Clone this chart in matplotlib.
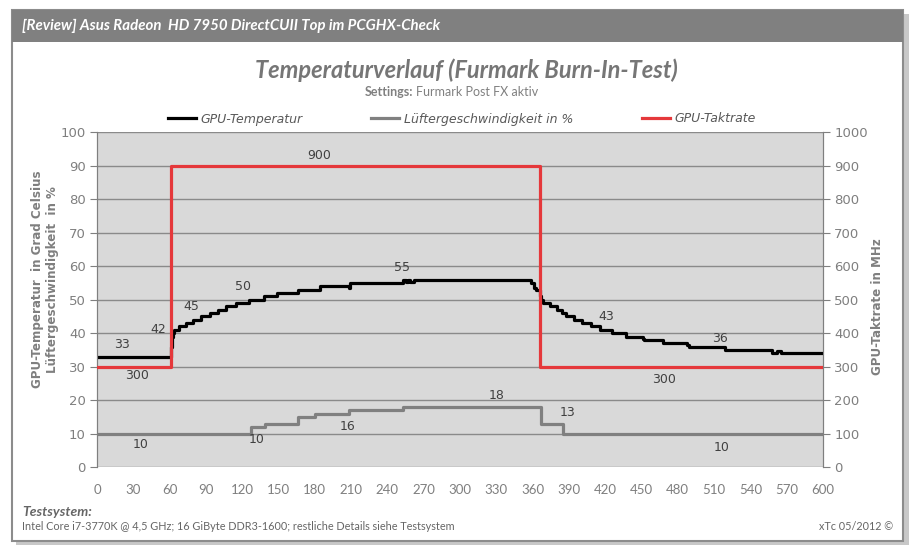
import matplotlib.pyplot as plt
from matplotlib.patches import Rectangle

# time axis in seconds, values as step levels (start time -> level)
temp_t = [0, 61, 62, 63, 64, 68, 73.5, 79, 86, 93, 100, 107, 115, 126, 138, 149, 166, 184,
          207, 208, 209, 253, 255, 257, 259, 262, 359, 361, 363, 366, 367, 369, 374, 380, 384,
          388, 394, 401, 408, 416, 426, 437, 451, 452, 468, 488, 489, 519, 558, 562, 565, 600]
temp_v = [33, 36, 39, 40, 41, 42, 43, 44, 45, 46, 47, 48, 49, 50, 51, 52, 53, 54,
          54, 53.6, 55, 55.8, 55.2, 55.8, 55.2, 56, 55, 53.5, 53, 51, 50, 49, 48, 47, 46,
          45, 44, 43, 42, 41, 40, 39, 38.4, 38, 37, 36.5, 36, 35, 34, 34.7, 34, 34]

fan_t = [0, 127, 138.5, 166.5, 180, 208, 252.5, 367, 385, 600]
fan_v = [10, 12, 13, 15, 16, 17, 18, 13, 10, 10]

clock_t = [0, 61, 366, 600]
clock_v = [300, 900, 300, 300]

x_ticks = list(range(0, 601, 30))

# data labels as shown in the chart (text, x, y)
temp_labels = [('33', 21, 36.7), ('42', 51, 41.2), ('45', 78, 48.0), ('50', 121, 53.9),
               ('55', 252, 59.5), ('43', 421, 44.9), ('36', 515, 38.5)]
fan_labels = [('10', 36, 6.7), ('10', 132, 8.4), ('16', 207, 12.2), ('18', 330, 21.5),
              ('13', 389, 16.2), ('10', 516, 5.9)]
clock_labels = [('300', 33, 275), ('900', 184, 931), ('300', 469, 262)]

GRAY = '#7f7f7f'
TXT = '#404040'

fig = plt.figure(figsize=(9.16, 5.51), dpi=100)
W, H = 916, 551

def fx(px):
    return px / W

def fy(py):
    return 1 - py / H

# frame with shadow and header bar
fig.patches.append(Rectangle((fx(16), fy(545)), fx(893), fy(14) - fy(545),
                             transform=fig.transFigure, facecolor='#c8c8c8', edgecolor='none', zorder=-3))
fig.patches.append(Rectangle((fx(12), fy(541)), fx(891), fy(10) - fy(541),
                             transform=fig.transFigure, facecolor='white', edgecolor='#8c8c8c', lw=1.5, zorder=-2))
fig.patches.append(Rectangle((fx(12), fy(42)), fx(891), fy(10) - fy(42),
                             transform=fig.transFigure, facecolor='#808080', edgecolor='none', zorder=-1))
fig.text(fx(22), fy(26), '[Review] Asus Radeon  HD 7950 DirectCUII Top im PCGHX-Check', color='white',
         fontsize=10.8, fontweight='bold', fontstyle='italic', family='Lato', va='center')

fig.text(fx(466), fy(70), 'Temperaturverlauf (Furmark Burn-In-Test)', color='#767676', fontsize=17,
         fontweight='bold', fontstyle='italic', family='Lato', ha='center', va='center')
fig.text(fx(413), fy(92), 'Settings:', color='#808080', fontsize=9, fontweight='bold', family='Lato',
         ha='right', va='center')
fig.text(fx(416), fy(92), 'Furmark Post FX aktiv', color='#808080', fontsize=9, family='Lato',
         ha='left', va='center')

ax = fig.add_axes([fx(97), fy(467.3), fx(823) - fx(97), fy(132) - fy(467.3)])
ax.set_facecolor('#d9d9d9')
ax2 = ax.twinx()

l1, = ax.plot(temp_t, temp_v, drawstyle='steps-post', color='black', lw=2.3, zorder=4,
              label='GPU-Temperatur')
l2, = ax.plot(fan_t, fan_v, drawstyle='steps-post', color='#808080', lw=2.3, zorder=3,
              label='Lüftergeschwindigkeit in %')
l3, = ax2.plot(clock_t, clock_v, drawstyle='steps-post', color='#e5383b', lw=2.3, zorder=5,
               label='GPU-Taktrate')

ax.set_xlim(0, 600)
ax.set_ylim(0, 100)
ax2.set_ylim(0, 1000)
ax.set_xticks(x_ticks)
ax.set_yticks(range(0, 101, 10))
ax2.set_yticks(range(0, 1001, 100))
ax.grid(axis='y', color='#8a8a8a', lw=1)
ax.set_axisbelow(True)

for a in (ax, ax2):
    for s in ('top', 'bottom'):
        a.spines[s].set_visible(False)
    a.spines['left'].set_color(GRAY)
    a.spines['right'].set_color(GRAY)
ax.tick_params(axis='y', colors=GRAY, labelcolor=GRAY, length=5, labelsize=9.5, pad=3)
ax2.tick_params(axis='y', colors=GRAY, labelcolor=GRAY, length=5, labelsize=9.5, pad=3)
ax.tick_params(axis='x', length=0, labelcolor=GRAY, labelsize=9.5, pad=12)
for lb in ax.get_xticklabels():
    lb.set_family('Lato')

ax.set_ylabel('GPU-Temperatur  in Grad Celsius\nLüftergeschwindigkeit  in %', color=GRAY,
              fontsize=8.6, fontweight='bold')
ax.yaxis.set_label_coords(-0.052, 0.56)
ax2.set_ylabel('GPU-Taktrate in MHz', color=GRAY, fontsize=8.6, fontweight='bold')
ax2.yaxis.set_label_coords(1.066, 0.48)

for txt, x, y in temp_labels + fan_labels:
    ax.text(x, y, txt, color=TXT, fontsize=9, ha='center', va='center', zorder=6)
for txt, x, y in clock_labels:
    ax2.text(x, y, txt, color=TXT, fontsize=9, ha='center', va='center', zorder=6)

fig.legend(handles=[l1, l2, l3], loc='center', bbox_to_anchor=(fx(462), fy(119)), ncol=3,
           frameon=False, handlelength=2.2, handletextpad=0.4, columnspacing=5.5,
           prop={'style': 'italic', 'size': 9}, labelcolor='#595959')

fig.text(fx(22), fy(512), 'Testsystem:', color='#666666', fontsize=10, fontweight='bold',
         fontstyle='italic', family='Lato', va='center')
fig.text(fx(22), fy(527), 'Intel Core i7-3770K @ 4,5 GHz; 16 GiByte DDR3-1600; restliche Details siehe Testsystem',
         color='#666666', fontsize=7.8, family='Lato', va='center')
fig.text(fx(893), fy(527), 'xTc 05/2012 ©', color='#666666', fontsize=7.8, family='Lato',
         va='center', ha='right')

fig.savefig('out.png', dpi=100)
